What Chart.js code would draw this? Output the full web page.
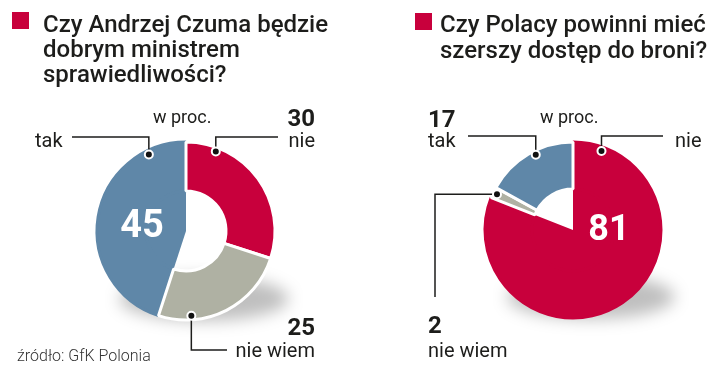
<!DOCTYPE html>
<html>
<head>
<meta charset="utf-8">
<script src="https://cdn.jsdelivr.net/npm/chart.js@4.4.1/dist/chart.umd.min.js"></script>
<style>
  html, body { margin: 0; padding: 0; background: #fff; }
  #wrap { position: relative; width: 720px; height: 384px; overflow: hidden; }
  .box { position: absolute; top: 0; width: 360px; height: 384px; }
</style>
</head>
<body>
<div id="wrap">
  <div class="box" style="left:0"><canvas id="chartCzuma" width="360" height="384"></canvas></div>
  <div class="box" style="left:360px"><canvas id="chartBron" width="360" height="384"></canvas></div>
</div>
<script>
// dane: GfK Polonia, w proc.
const czumaTitle = ['Czy Andrzej Czuma będzie', 'dobrym ministrem', 'sprawiedliwości?'];
const czumaLabels = ['tak', 'nie', 'nie wiem'];
const czumaValues = [45, 30, 25];

const bronTitle = ['Czy Polacy powinni mieć', 'szerszy dostęp do broni?'];
const bronLabels = ['nie', 'nie wiem', 'tak'];
const bronValues = [81, 2, 17];

const unitLabel = 'w proc.';
const sourceLabel = 'źródło: GfK Polonia';

const RED = '#c8003c', BLUE = '#5f87a8', GREY = '#afb1a3', INK = '#1d1d1b';
const colorFor = { 'tak': BLUE, 'nie': RED, 'nie wiem': GREY };
const FONT = 'Roboto, "Noto Sans", sans-serif';

const sum = arr => arr.reduce((a, b) => a + b, 0);

// rysuje cien, linie odnosnikow, kropki i napisy
const decorPlugin = {
  id: 'decor',
  beforeDatasetsDraw(chart, args, o) {
    const a = chart.getDatasetMeta(0).data[0].getProps(['x', 'y', 'outerRadius'], true);
    const ctx = chart.ctx;
    ctx.save();
    ctx.filter = 'blur(8px)';
    ctx.fillStyle = 'rgba(0,0,0,0.25)';
    ctx.beginPath();
    ctx.ellipse(a.x + 18, a.y + a.outerRadius * 0.76, a.outerRadius * 0.95, a.outerRadius * 0.25, 0, 0, Math.PI * 2);
    ctx.fill();
    ctx.restore();
  },
  afterDraw(chart, args, o) {
    const ctx = chart.ctx;
    const meta = chart.getDatasetMeta(0);
    ctx.save();
    // odnosniki
    (o.leaders || []).forEach(l => {
      const arc = meta.data[l.index].getProps(['x', 'y', 'startAngle', 'endAngle', 'outerRadius'], true);
      const ang = arc.startAngle + l.at * (arc.endAngle - arc.startAngle);
      const r = arc.outerRadius - 4;
      let px = arc.x + r * Math.cos(ang), py = arc.y + r * Math.sin(ang);
      const dot = [px, py];
      ctx.strokeStyle = INK;
      ctx.lineWidth = 1.5;
      ctx.beginPath();
      ctx.moveTo(px, py);
      l.path.forEach(p => {
        px = p[0] == null ? px : p[0];
        py = p[1] == null ? py : p[1];
        ctx.lineTo(px, py);
      });
      ctx.stroke();
      ctx.beginPath();
      ctx.arc(dot[0], dot[1], 4, 0, Math.PI * 2);
      ctx.fillStyle = '#111';
      ctx.fill();
      ctx.lineWidth = 2;
      ctx.strokeStyle = '#fff';
      ctx.stroke();
    });
    // kwadrat przy tytule
    if (o.square) {
      ctx.fillStyle = RED;
      ctx.fillRect(o.square[0], o.square[1], o.square[2], o.square[2]);
    }
    // napisy
    (o.texts || []).forEach(t => {
      ctx.font = t.font;
      ctx.fillStyle = t.color || INK;
      ctx.textAlign = t.align || 'left';
      ctx.textBaseline = 'alphabetic';
      ctx.fillText(t.text, t.x, t.y);
    });
    ctx.restore();
  }
};

function makeDonut(id, labels, values, cfg) {
  const colors = labels.map(l => colorFor[l]);
  const big = values.indexOf(Math.max(...values));
  // najwiekszy wycinek siega do srodka, reszta ma dziure
  const borderColors = colors.map((c, i) => i === big ? c : '#fff');
  const innerColors = colors.map((c, i) => i === big ? c : 'rgba(0,0,0,0)');
  return new Chart(document.getElementById(id), {
    type: 'doughnut',
    data: {
      labels: labels,
      datasets: [
        { data: values, backgroundColor: colors, borderColor: borderColors, borderWidth: 3, weight: cfg.radius - cfg.hole },
        { data: values, backgroundColor: innerColors, borderWidth: 0, weight: cfg.hole }
      ]
    },
    options: {
      responsive: false,
      animation: false,
      cutout: 0,
      radius: cfg.radius,
      rotation: cfg.rotation,
      layout: { padding: cfg.padding },
      events: [],
      plugins: {
        legend: { display: false },
        tooltip: { enabled: false },
        decor: { leaders: cfg.leaders, texts: cfg.texts, square: cfg.square }
      }
    },
    plugins: [decorPlugin]
  });
}

const titleFont = '500 24px ' + FONT;
const labFont = '20px ' + FONT;
const numFont = 'bold 24px ' + FONT;

makeDonut('chartCzuma', czumaLabels, czumaValues, {
  radius: 89, hole: 40,
  rotation: -czumaValues[0] / sum(czumaValues) * 360,
  padding: { left: 40, right: 28, top: 120, bottom: 42 },
  square: [12, 12, 17],
  leaders: [
    { index: 0, at: 0.84, path: [[null, 137], [72, null]] },
    { index: 1, at: 0.19, path: [[null, 137], [278, null]] },
    { index: 2, at: 0.76, path: [[null, 350], [227, null]] }
  ],
  texts: [
    { text: czumaTitle[0], x: 43, y: 32, font: titleFont },
    { text: czumaTitle[1], x: 43, y: 57, font: titleFont },
    { text: czumaTitle[2], x: 43, y: 82, font: titleFont },
    { text: unitLabel, x: 153, y: 123, font: '18px ' + FONT },
    { text: String(czumaValues[1]), x: 315, y: 126, font: numFont, align: 'right' },
    { text: czumaLabels[1], x: 315, y: 147, font: labFont, align: 'right' },
    { text: czumaLabels[0], x: 35, y: 147, font: labFont },
    { text: String(czumaValues[0]), x: 142, y: 237, font: 'bold 38px ' + FONT, align: 'center', color: '#fff' },
    { text: String(czumaValues[2]), x: 315, y: 335, font: numFont, align: 'right' },
    { text: czumaLabels[2], x: 315, y: 357, font: labFont, align: 'right' },
    { text: sourceLabel, x: 17, y: 361, font: '300 16px ' + FONT, color: '#333' }
  ]
});

makeDonut('chartBron', bronLabels, bronValues, {
  radius: 88, hole: 41,
  rotation: 0,
  padding: { left: 80, right: 14, top: 120, bottom: 44 },
  square: [55, 13, 17],
  leaders: [
    { index: 2, at: 0.57, path: [[null, 136], [108, null]] },
    { index: 0, at: 0.068, path: [[null, 136], [303, null]] },
    { index: 1, at: 0.5, path: [[75, null], [null, 297]] }
  ],
  texts: [
    { text: bronTitle[0], x: 80, y: 32, font: titleFont },
    { text: bronTitle[1], x: 80, y: 58, font: titleFont },
    { text: unitLabel, x: 180, y: 123, font: '18px ' + FONT },
    { text: String(bronValues[2]), x: 68, y: 127, font: numFont },
    { text: bronLabels[2], x: 68, y: 147, font: labFont },
    { text: bronLabels[0], x: 315, y: 147, font: labFont },
    { text: String(bronValues[0]), x: 249, y: 240, font: 'bold 36px ' + FONT, align: 'center', color: '#fff' },
    { text: String(bronValues[1]), x: 68, y: 333, font: numFont },
    { text: bronLabels[1], x: 68, y: 357, font: labFont }
  ]
});
</script>
</body>
</html>
